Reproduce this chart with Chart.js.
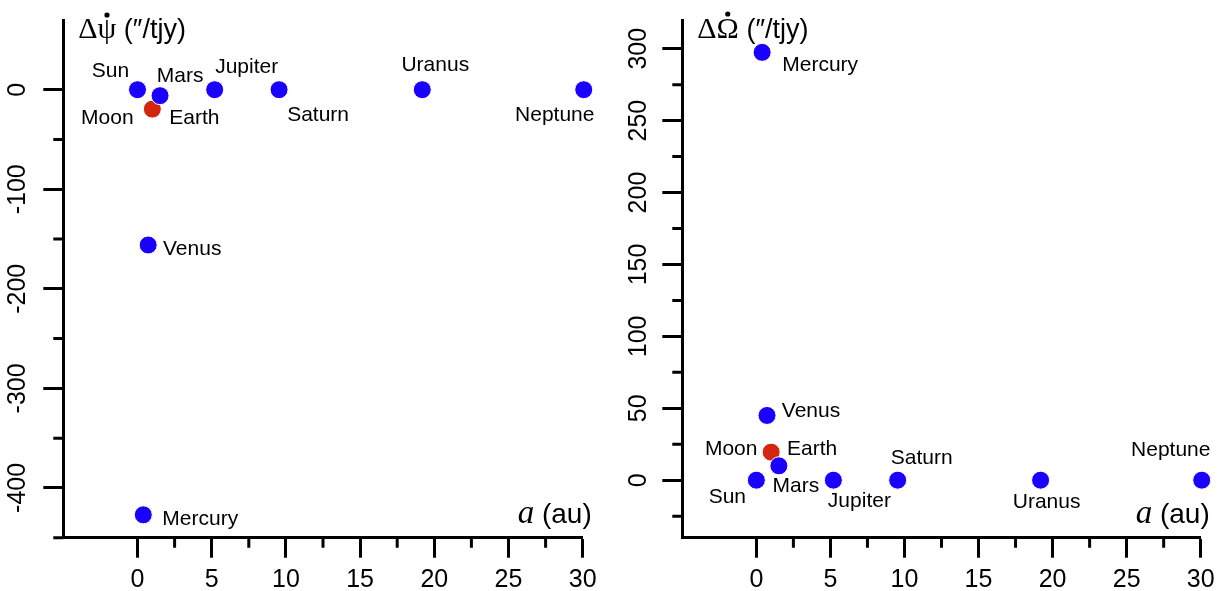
<!DOCTYPE html>
<html>
<head>
<meta charset="utf-8">
<script src="https://cdn.jsdelivr.net/npm/chart.js@4"></script>
<style>
html, body { margin: 0; padding: 0; background: #fff; overflow: hidden; }
#left { position: absolute; left: 0; top: 0; }
#right { position: absolute; left: 611px; top: 0; }
</style>
</head>
<body>
<canvas id="left" width="611" height="591"></canvas>
<canvas id="right" width="612" height="591"></canvas>
<script>
// bodies plotted in blue
const planets = ['Sun', 'Mercury', 'Venus', 'Mars', 'Jupiter', 'Saturn', 'Uranus', 'Neptune'];
const planetA = [0, 0.39, 0.72, 1.52, 5.20, 9.54, 19.19, 30.07];
const planetDPsi = [0, -427, -156, -6, 0, 0, 0, 0];
const planetDOmega = [0, 297.5, 45, 10, 0, 0, 0, 0];

// Earth-Moon point in red
const earthMoon = ['Moon', 'Earth'];
const earthMoonA = [1.0];
const earthMoonDPsi = [-19.5];
const earthMoonDOmega = [19.5];

// axis ticks
const xTicks = [0, 5, 10, 15, 20, 25, 30];
const xMinorTicks = [2.5, 7.5, 12.5, 17.5, 22.5, 27.5];
const psiTicks = [-400, -300, -200, -100, 0];
const psiMinorTicks = [-450, -350, -250, -150, -50];
const omegaTicks = [0, 50, 100, 150, 200, 250, 300];
const omegaMinorTicks = [-25, 25, 75, 125, 175, 225, 275];

const BLUE = '#1a00ff';
const RED = '#d3260f';
const SANS = '"Liberation Sans", Arial, sans-serif';
const SERIF = '"Liberation Serif", "DejaVu Serif", serif';

// label offsets from the point centre (px)
const leftOffsets = {
    Sun: [-27, -18], Mercury: [57, 4], Venus: [44, 4], Mars: [20, -19],
    Jupiter: [32, -22], Saturn: [39, 26], Uranus: [13, -24], Neptune: [-29, 26],
    Moon: [-45, 9], Earth: [42, 9]
};
const rightOffsets = {
    Sun: [-29, 17], Mercury: [58, 13], Venus: [44, -4], Mars: [17, 20],
    Jupiter: [26, 21], Saturn: [24, -22], Uranus: [6, 22], Neptune: [-31, -30],
    Moon: [-40, -3], Earth: [41, -3]
};

const decor = {
    id: 'decor',
    afterDatasetsDraw(chart) {
        const { ctx, chartArea, scales: { x, y } } = chart;
        const cfg = chart.options.plugins.decor;
        ctx.save();

        // minor ticks
        ctx.strokeStyle = '#000';
        ctx.lineWidth = 3;
        ctx.beginPath();
        xMinorTicks.forEach(v => {
            const px = x.getPixelForValue(v);
            ctx.moveTo(px, chartArea.bottom);
            ctx.lineTo(px, chartArea.bottom + 10);
        });
        cfg.yMinor.forEach(v => {
            const py = y.getPixelForValue(v);
            ctx.moveTo(chartArea.left - 10, py);
            ctx.lineTo(chartArea.left, py);
        });
        ctx.stroke();

        // point labels
        ctx.fillStyle = '#000';
        ctx.font = '21px ' + SANS;
        ctx.textAlign = 'center';
        ctx.textBaseline = 'middle';
        chart.data.datasets.forEach((ds, i) => {
            const meta = chart.getDatasetMeta(i);
            meta.data.forEach((pt, j) => {
                ds.names[j].forEach(name => {
                    const off = cfg.offsets[name];
                    ctx.fillText(name, pt.x + off[0], pt.y + off[1]);
                });
            });
        });

        // y title: delta, symbol with a dot over it, units
        ctx.textAlign = 'left';
        ctx.textBaseline = 'alphabetic';
        const base = 38;
        let tx = chartArea.left + 15;
        ctx.font = '30px ' + SERIF;
        ctx.fillText('\u0394', tx, base);
        tx += ctx.measureText('\u0394').width;
        const m = ctx.measureText(cfg.symbol);
        ctx.fillText(cfg.symbol, tx, base);
        ctx.beginPath();
        ctx.arc(tx + m.width / 2, base - m.actualBoundingBoxAscent - 5, 2.6, 0, Math.PI * 2);
        ctx.fill();
        tx += m.width;
        ctx.font = '27px ' + SANS;
        ctx.fillText(' (\u2033/tjy)', tx, base);

        // x title
        ctx.font = '28px ' + SANS;
        const w2 = ctx.measureText(' (au)').width;
        ctx.font = 'italic 33px ' + SERIF;
        const w1 = ctx.measureText('a').width;
        const endX = chartArea.right + 9;
        const by = chartArea.bottom - 15;
        ctx.fillText('a', endX - w2 - w1, by);
        ctx.font = '28px ' + SANS;
        ctx.fillText(' (au)', endX - w2, by);

        ctx.restore();
    }
};

function makePanel(id, planetY, emY, yMin, yMax, yTicks, yMinor, offsets, symbol, axisWidth, rightPad, yPad) {
    const axisStyle = {
        grid: { drawOnChartArea: false, drawTicks: true, tickLength: 20, tickWidth: 3, tickColor: '#000' },
        border: { display: true, color: '#000', width: 3 }
    };
    return new Chart(document.getElementById(id), {
        type: 'scatter',
        data: {
            datasets: [
                {
                    data: planetA.map((a, i) => ({ x: a, y: planetY[i] })),
                    names: planets.map(n => [n]),
                    backgroundColor: BLUE,
                    borderColor: '#fff',
                    borderWidth: 1,
                    pointRadius: 9,
                    clip: false
                },
                {
                    data: earthMoonA.map((a, i) => ({ x: a, y: emY[i] })),
                    names: [earthMoon],
                    backgroundColor: RED,
                    borderColor: '#fff',
                    borderWidth: 1,
                    pointRadius: 9,
                    clip: false
                }
            ]
        },
        options: {
            responsive: false,
            animation: false,
            devicePixelRatio: 1,
            layout: { padding: { top: 20, right: rightPad, left: 0, bottom: 0 } },
            plugins: {
                legend: { display: false },
                tooltip: { enabled: false },
                decor: { yMinor: yMinor, offsets: offsets, symbol: symbol }
            },
            scales: {
                x: {
                    type: 'linear',
                    min: -5,
                    max: 30,
                    afterBuildTicks: s => { s.ticks = xTicks.map(v => ({ value: v })); },
                    afterFit: s => { s.height = 53.3; },
                    ...axisStyle,
                    ticks: { color: '#000', font: { family: SANS, size: 25 }, padding: 7, maxRotation: 0, autoSkip: false }
                },
                y: {
                    type: 'linear',
                    min: yMin,
                    max: yMax,
                    afterBuildTicks: s => { s.ticks = yTicks.map(v => ({ value: v })); },
                    afterFit: s => { s.width = axisWidth; },
                    ...axisStyle,
                    ticks: {
                        color: '#000', font: { family: SANS, size: 25 },
                        minRotation: 90, maxRotation: 90, crossAlign: 'center',
                        padding: yPad, autoSkip: false
                    }
                }
            }
        },
        plugins: [decor]
    });
}

makePanel('left', planetDPsi, earthMoonDPsi, -450, 70, psiTicks, psiMinorTicks, leftOffsets,
    '\u03C8', 63.3, 28.3, 0);
makePanel('right', planetDOmega, earthMoonDOmega, -40, 320, omegaTicks, omegaMinorTicks, rightOffsets,
    '\u03A9', 71.3, 22.3, 2.5);
</script>
</body>
</html>
